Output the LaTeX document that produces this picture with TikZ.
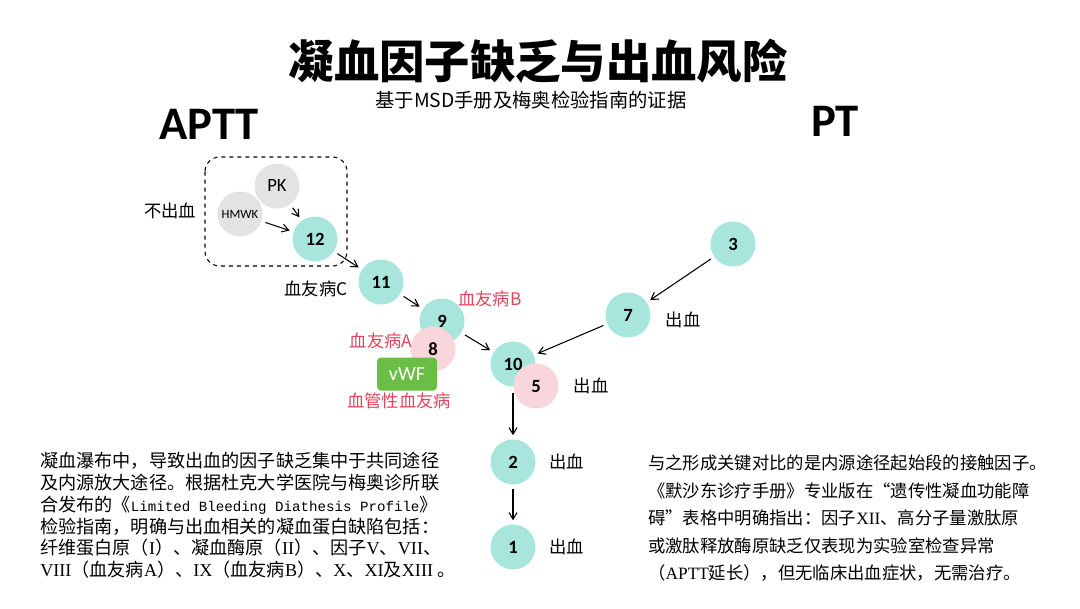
\documentclass[tikz,border=0pt]{standalone}
\usepackage{fontspec}
\setmainfont{Noto Sans CJK SC}
\newfontfamily\cali{Carlito}
\newfontfamily\latmono[Scale=0.78]{Liberation Mono}
\newfontfamily\latserif{Liberation Serif}
\newcommand{\lat}[1]{{\latmono #1}}
\newcommand{\rom}[1]{{\latserif #1}}
\usetikzlibrary{arrows.meta,positioning}
\definecolor{aqua}{HTML}{A8E6DD}
\definecolor{blush}{HTML}{F9D6DB}
\definecolor{pebble}{HTML}{E3E3E3}
\definecolor{leaf}{HTML}{6BBE45}
\definecolor{rose}{HTML}{E0475E}
\tikzset{
  factor/.style={circle,fill=aqua,minimum size=33.75pt,inner sep=0pt,
                 font=\cali\bfseries\fontsize{14}{14}\selectfont},
  pinkfactor/.style={factor,fill=blush},
  contact/.style={factor,fill=pebble,font=\cali\fontsize{14}{14}\selectfont},
  vwfbox/.style={fill=leaf,rounded corners=3pt,minimum width=45pt,minimum height=24.75pt,
                 text=white,font=\cali\fontsize{15}{15}\selectfont},
  note/.style={inner sep=0pt,font=\fontsize{13}{13}\selectfont},
  alert/.style={note,text=rose},
  groupbox/.style={draw,dashed,line width=0.8pt,rounded corners=11pt},
  para/.style={anchor=north west,inner sep=0pt,align=left},
  arrow/.style={-{Straight Barb[length=5pt,width=6pt]},line width=0.8pt,
                shorten <=3pt,shorten >=3pt}
}

\begin{document}
\begin{tikzpicture}[x=0.75pt,y=-0.75pt]
\path[use as bounding box,fill=white] (0,0) rectangle (1080,608);
% headings
\node[font=\bfseries\fontsize{34}{34}\selectfont] (title) at (538,61) {凝血因子缺乏与出血风险};
\node[font=\fontsize{14.5}{14.5}\selectfont] (subtitle) at (531,100) {基于MSD手册及梅奥检验指南的证据};
\node[font=\cali\bfseries\fontsize{35}{35}\selectfont] (aptt) at (209,124) {APTT};
\node[font=\cali\bfseries\fontsize{35}{35}\selectfont] (pt) at (835,121) {PT};
% contact factors
\draw[groupbox] (205,157) rectangle (347,266);
\node[contact] (pk) at (277,186) {PK};
\node[contact,font=\cali\fontsize{9.5}{9.5}\selectfont] (hmwk) at (240,214) {HMWK};
\node[factor] (f12) at (315,239) {12};
\node[note] (nobleed) at (170,211) {不出血};
% intrinsic
\node[factor] (f11) at (381,282) {11};
\node[note] (hemc) at (316,289) {血友病C};
\node[factor] (f9) at (442,321) {9};
\node[pinkfactor] (f8) at (433,349) {8};
\node[alert] (hemb) at (490,299) {血友病B};
\node[alert] (hema) at (381,341) {血友病A};
\node[vwfbox] (vwf) at (407,374) {vWF};
\node[alert] (vwd) at (399,401) {血管性血友病};
% extrinsic
\node[factor] (f3) at (733,244) {3};
\node[factor] (f7) at (628,315) {7};
\node[note,right=11pt of f7,yshift=-4pt] (bleed7) {出血};
% common
\node[factor] (f10) at (513,364) {10};
\node[pinkfactor] (f5) at (536,386) {5};
\node[note,right=11pt of f5] (bleed5) {出血};
\node[factor] (f2) at (513,462) {2};
\node[note,right=10pt of f2] (bleed2) {出血};
\node[factor] (f1) at (513,547) {1};
\node[note,right=10pt of f1] (bleed1) {出血};
\draw[arrow] (pk) -- (f12);
\draw[arrow] (hmwk) -- (f12);
\draw[arrow] (f12) -- (f11);
\draw[arrow] (f11) -- (f9);
\draw[arrow] (f9) -- (f10);
\draw[arrow] (f3) -- (f7);
\draw[arrow] (f7) -- (f10);
\draw[arrow,shorten <=5pt] (f10) -- (f2);
\draw[arrow] (f2) -- (f1);
% notes
\node[para,font=\fontsize{13.6}{16.35}\selectfont] (leftnote) at (40,452) {%
凝血瀑布中，导致出血的因子缺乏集中于共同途径\\
及内源放大途径。根据杜克大学医院与梅奥诊所联\\
合发布的《\lat{Limited Bleeding Diathesis Profile}》\\
检验指南，明确与出血相关的凝血蛋白缺陷包括：\\
纤维蛋白原（\rom{I}）、凝血酶原（\rom{II}）、因子\rom{V}、\rom{VII}、\\
\rom{VIII}（血友病\rom{A}）、\rom{IX}（血友病\rom{B}）、\rom{X}、\rom{XI}及\rom{XIII} 。};
\node[para,font=\fontsize{13}{20.6}\selectfont] (rightnote) at (648,455) {%
与之形成关键对比的是内源途径起始段的接触因子。\\
《默沙东诊疗手册》专业版在“遗传性凝血功能障\\
碍”表格中明确指出：因子\rom{XII}、高分子量激肽原\\
或激肽释放酶原缺乏仅表现为实验室检查异常\\
（\rom{APTT}延长），但无临床出血症状，无需治疗。};
\end{tikzpicture}
\end{document}
